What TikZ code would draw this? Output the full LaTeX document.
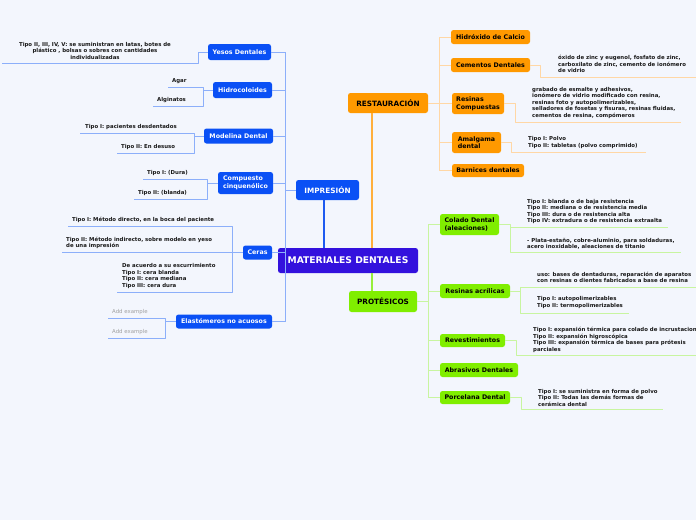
\documentclass[tikz,border=0pt]{standalone}
\usepackage{fontspec}
\setmainfont{DejaVu Sans}
\definecolor{bg}{RGB}{243,246,253}
\definecolor{ccentral}{RGB}{51,17,221}
\definecolor{cblue}{RGB}{10,80,245}
\definecolor{corange}{RGB}{255,153,0}
\definecolor{cgreen}{RGB}{128,238,0}
\definecolor{lblue}{RGB}{140,175,250}
\definecolor{mblue}{RGB}{30,90,240}
\definecolor{lorange}{RGB}{255,215,165}
\definecolor{morange}{RGB}{255,175,60}
\definecolor{lgreen}{RGB}{200,245,160}
\definecolor{mgreen}{RGB}{150,238,60}
\definecolor{leaftext}{RGB}{25,25,25}
\definecolor{graytext}{RGB}{160,160,160}
\begin{document}
\begin{tikzpicture}[x=1pt,y=-1pt,
  box/.style={rounded corners=2.5pt, inner sep=0pt, align=center, font=\fontsize{6.3}{7.6}\selectfont\bfseries},
  bluebox/.style={box, fill=cblue, text=white},
  orangebox/.style={box, fill=corange, text=black},
  greenbox/.style={box, fill=cgreen, text=black},
  capsfont/.style={font=\fontsize{7.3}{8.5}\selectfont\bfseries},
  centralbox/.style={box, fill=ccentral, text=white, font=\fontsize{9.2}{11}\selectfont\bfseries},
  leaf/.style={anchor=west, inner sep=0pt, align=left, font=\fontsize{5.4}{6.5}\selectfont\bfseries, text=leaftext},
  addex/.style={leaf, font=\fontsize{5.4}{6.5}\selectfont, text=graytext},
  bl/.style={draw=lblue, line width=1pt, line join=round},
  ol/.style={draw=lorange, line width=1pt, line join=round},
  gl/.style={draw=lgreen, line width=1pt, line join=round},
]
\useasboundingbox[fill=bg] (0,0) rectangle (696,520);

% ---------- central + main branches ----------
\node[centralbox, minimum width=140, minimum height=25] (central) at (348,260.5) {MATERIALES DENTALES};
\node[bluebox, capsfont, minimum width=63, minimum height=20] (impr) at (327.5,190) {IMPRESIÓN};
\node[orangebox, capsfont, minimum width=80, minimum height=20] (rest) at (388,103) {RESTAURACIÓN};
\node[greenbox, capsfont, minimum width=68, minimum height=21] (prot) at (383,301.5) {PROTÉSICOS};

\draw[draw=mblue, line width=1.2pt] (impr.south -| 324,0) -- (central.north -| 324,0);
\draw[draw=morange, line width=1.2pt] (rest.south -| 372,0) -- (central.north -| 372,0);
\draw[draw=mgreen, line width=1.2pt] (central.south -| 372,0) -- (prot.north -| 372,0);

% ---------- IMPRESIÓN subtree ----------
\node[bluebox, minimum width=63, minimum height=16] (yesos) at (239.5,52) {Yesos Dentales};
\node[bluebox, minimum width=59, minimum height=16] (hidro) at (242.5,90) {Hidrocoloides};
\node[bluebox, minimum width=69, minimum height=15] (model) at (238.5,136) {Modelina Dental};
\node[bluebox, minimum width=55, minimum height=22, align=left] (compu) at (245.5,183) {Compuesto\\cinquenólico};
\node[bluebox, minimum width=29, minimum height=14] (ceras) at (257.5,252.5) {Ceras};
\node[bluebox, minimum width=96, minimum height=14] (elast) at (224,321.5) {Elastómeros no acuosos};

\coordinate (ltop) at (285,52);
\coordinate (lbot) at (285,321.5);
\draw[bl] (ltop) -- (lbot);
\draw[bl] (impr.west) -- (285,190);
\draw[bl] (yesos.east) -- (ltop);
\draw[bl] (hidro.east) -- (285,90);
\draw[bl] (model.east) -- (285,136);
\draw[bl] (compu.east) -- (285,183);
\draw[bl] (ceras.east) -- (285,252.5);
\draw[bl] (elast.east) -- (lbot);

% Yesos leaf
\node[leaf, anchor=center, align=center] (yesosT) at (95,50.5) {Tipo II, III, IV, V: se suministran en latas, botes de\\plástico , bolsas o sobres con cantidades\\individualizadas};
\coordinate (yesosE) at (2,63);
\draw[bl] (yesos.west) -- (198,52) -- (198,63) -- (yesosE);

% Hidrocoloides leaves
\node[leaf] (agar) at (172,81) {Agar};
\node[leaf] (algi) at (157,100) {Alginatos};
\coordinate (agarE) at (168,87);
\coordinate (algiE) at (153,106);
\draw[bl] (hidro.west) -- (203,90);
\draw[bl] (agarE) -- (203,87) -- (203,106) -- (algiE);

% Modelina leaves
\node[leaf] (mod1) at (85,127) {Tipo I: pacientes desdentados};
\node[leaf] (mod2) at (121,147) {Tipo II: En desuso};
\coordinate (mod1E) at (80,133);
\coordinate (mod2E) at (117,153);
\draw[bl] (model.west) -- (194,136);
\draw[bl] (mod1E) -- (194,133) -- (194,153) -- (mod2E);

% Compuesto leaves
\node[leaf] (com1) at (147,173) {Tipo I: (Dura)};
\node[leaf] (com2) at (138,193) {Tipo II: (blanda)};
\coordinate (com1E) at (143,179);
\coordinate (com2E) at (134,199);
\draw[bl] (compu.west) -- (207,183);
\draw[bl] (com1E) -- (207,179) -- (207,199) -- (com2E);

% Ceras leaves
\node[leaf] (cer1) at (72,220) {Tipo I: Método directo, en la boca del paciente};
\node[leaf] (cer2) at (66,243) {Tipo II: Método indirecto, sobre modelo en yeso\\de una impresión};
\node[leaf] (cer3) at (122,276) {De acuerdo a su escurrimiento\\Tipo I: cera blanda\\Tipo II: cera mediana\\Tipo III: cera dura};
\coordinate (cer1E) at (68,226);
\coordinate (cer2E) at (62,252.5);
\coordinate (cer3E) at (117,292);
\draw[bl] (ceras.west) -- (232,252.5);
\draw[bl] (cer1E) -- (232,226) -- (232,292) -- (cer3E);
\draw[bl] (cer2E) -- (232,252.5);

% Elastomeros leaves
\node[addex] (ela1) at (112,312) {Add example};
\node[addex] (ela2) at (112,332) {Add example};
\coordinate (ela1E) at (108,318);
\coordinate (ela2E) at (108,338);
\draw[bl] (elast.west) -- (165,321.5);
\draw[bl] (ela1E) -- (165,318) -- (165,338) -- (ela2E);

% ---------- RESTAURACIÓN subtree ----------
\node[orangebox, minimum width=79, minimum height=14] (hidrox) at (490.5,37) {Hidróxido de Calcio};
\node[orangebox, minimum width=79, minimum height=14] (cemen) at (490.5,65) {Cementos Dentales};
\node[orangebox, minimum width=52, minimum height=21, align=left] (resco) at (478,103.5) {Resinas\\Compuestas};
\node[orangebox, minimum width=49, minimum height=21, align=left] (amal) at (476.5,142.5) {Amalgama\\dental};
\node[orangebox, minimum width=72, minimum height=13] (barn) at (488,170.5) {Barnices dentales};

\coordinate (rtop) at (439,37);
\coordinate (rbot) at (439,170.5);
\draw[ol] (rtop) -- (rbot);
\draw[ol] (rest.east) -- (439,103);
\draw[ol] (hidrox.west) -- (rtop);
\draw[ol] (cemen.west) -- (439,65);
\draw[ol] (resco.west) -- (439,103.5);
\draw[ol] (amal.west) -- (439,142.5);
\draw[ol] (barn.west) -- (rbot);

\node[leaf] (cemT) at (558,64) {óxido de zinc y eugenol, fosfato de zinc,\\carboxilato de zinc, cemento de ionómero\\de vidrio};
\coordinate (cemE) at (696,77);
\draw[ol] (cemen.east) -- (540,65) -- (540,77) -- (cemE);

\node[leaf] (resT) at (532,103) {grabado de esmalte y adhesivos,\\ionómero de vidrio modificado con resina,\\resinas foto y autopolimerizables,\\selladores de fosetas y fisuras, resinas fluidas,\\cementos de resina, compómeros};
\coordinate (resE) at (681,122);
\draw[ol] (resco.east) -- (515,103.5) -- (515,122) -- (resE);

\node[leaf] (amaT) at (528,142.5) {Tipo I: Polvo\\Tipo II: tabletas (polvo comprimido)};
\coordinate (amaE) at (646,152);
\draw[ol] (amal.east) -- (511,142.5) -- (511,152) -- (amaE);

% ---------- PROTÉSICOS subtree ----------
\node[greenbox, minimum width=59, minimum height=21, align=left] (colado) at (469.5,224.5) {Colado Dental\\(aleaciones)};
\node[greenbox, minimum width=70, minimum height=14] (resac) at (475,291) {Resinas acrílicas};
\node[greenbox, minimum width=65, minimum height=13] (reves) at (472.5,340.5) {Revestimientos};
\node[greenbox, minimum width=78, minimum height=14] (abras) at (479,370) {Abrasivos Dentales};
\node[greenbox, minimum width=70, minimum height=13] (porce) at (475,397.5) {Porcelana Dental};

\coordinate (gtop) at (428,224.5);
\coordinate (gbot) at (428,397.5);
\draw[gl] (gtop) -- (gbot);
\draw[gl] (prot.east) -- (428,301.5);
\draw[gl] (colado.west) -- (gtop);
\draw[gl] (resac.west) -- (428,291);
\draw[gl] (reves.west) -- (428,340.5);
\draw[gl] (abras.west) -- (428,370);
\draw[gl] (porce.west) -- (gbot);

\node[leaf] (col1) at (527,211.7) {Tipo I: blanda o de baja resistencia\\Tipo II: mediana o de resistencia media\\Tipo III: dura o de resistencia alta\\Tipo IV: extradura o de resistencia extraalta};
\node[leaf] (col2) at (527,244) {- Plata-estaño, cobre-aluminio, para soldaduras,\\acero inoxidable, aleaciones de titanio};
\coordinate (col1E) at (668,227);
\coordinate (col2E) at (681,252);
\draw[gl] (colado.east) -- (510,224.5) -- (510,252) -- (col2E);
\draw[gl] (510,227) -- (col1E);

\node[leaf] (rac1) at (537,277.5) {uso: bases de dentaduras, reparación de aparatos\\con resinas o dientes fabricados a base de resina};
\node[leaf] (rac2) at (537,302.5) {Tipo I: autopolimerizables\\Tipo II: termopolimerizables};
\coordinate (rac1E) at (696,287);
\coordinate (rac2E) at (629,313);
\draw[gl] (resac.east) -- (520,291);
\draw[gl] (rac1E) -- (520,287) -- (520,313) -- (rac2E);

\node[leaf] (revT) at (533,339.7) {Tipo I: expansión térmica para colado de incrustaciones\\Tipo II: expansión higroscópica\\Tipo III: expansión térmica de bases para prótesis\\parciales};
\coordinate (revE) at (696,355);
\draw[gl] (reves.east) -- (516,340.5) -- (516,355) -- (revE);

\node[leaf] (porT) at (538,397.5) {Tipo I: se suministra en forma de polvo\\Tipo II: Todas las demás formas de\\cerámica dental};
\coordinate (porE) at (663,409);
\draw[gl] (porce.east) -- (521,397.5) -- (521,409) -- (porE);
\end{tikzpicture}
\end{document}
